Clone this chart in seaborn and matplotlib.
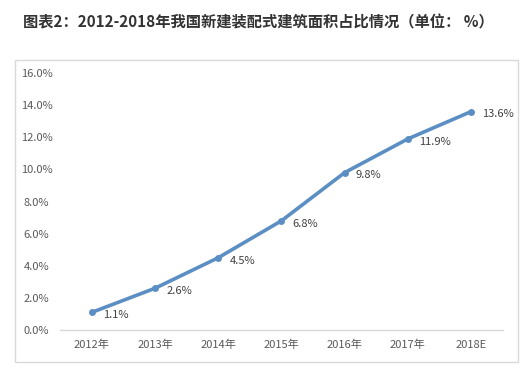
import matplotlib
matplotlib.use("Agg")
import matplotlib.pyplot as plt
import seaborn as sns
import pandas as pd
from matplotlib.patches import Rectangle
from matplotlib.ticker import FuncFormatter

# 数据
years = ["2012年", "2013年", "2014年", "2015年", "2016年", "2017年", "2018E"]
share = [1.1, 2.6, 4.5, 6.8, 9.8, 11.9, 13.6]
yticks = [0, 2, 4, 6, 8, 10, 12, 14, 16]

df = pd.DataFrame({"year": years, "share": share})

sns.set_theme(style="white")
plt.rcParams["font.family"] = ["Noto Sans CJK SC", "DejaVu Sans"]

fig = plt.figure(figsize=(5.24, 3.75), dpi=100)
ax = fig.add_axes([0.115, 0.12, 0.844, 0.685])

# 外框
fig.patches.append(Rectangle((15 / 524, 1 - 362 / 375), (518 - 15) / 524, (362 - 60) / 375,
                             transform=fig.transFigure, fill=False,
                             edgecolor="#d9d9d9", linewidth=1.0))

sns.lineplot(data=df, x="year", y="share", ax=ax, color="#5b8fc4",
             linewidth=2.6, marker="o", markersize=5, markeredgewidth=0, sort=False)

for i, v in enumerate(share):
    ax.annotate(f"{v:.1f}%", (i, v), xytext=(8, -2), textcoords="offset points",
                va="center", ha="left", fontsize=8, color="#404040")

ax.set_xlim(-0.5, 6.5)
ax.set_ylim(0, 16)
ax.set_yticks(yticks)
ax.yaxis.set_major_formatter(FuncFormatter(lambda v, p: f"{v:.1f}%"))
ax.set_xlabel("")
ax.set_ylabel("")
ax.tick_params(axis="both", labelsize=8, labelcolor="#595959", length=0, pad=7)
ax.tick_params(axis="y", pad=17)
for lab in ax.get_yticklabels():
    lab.set_horizontalalignment("center")

for s in ["top", "right", "left"]:
    ax.spines[s].set_visible(False)
ax.spines["bottom"].set_color("#d9d9d9")
ax.spines["bottom"].set_linewidth(1.0)
ax.grid(False)

fig.text(0.493, 1 - 22 / 375, "图表2：2012-2018年我国新建装配式建筑面积占比情况（单位： %）",
         ha="center", va="center", fontsize=11, fontweight="bold", color="#333333")

fig.savefig("out.png", dpi=100)
